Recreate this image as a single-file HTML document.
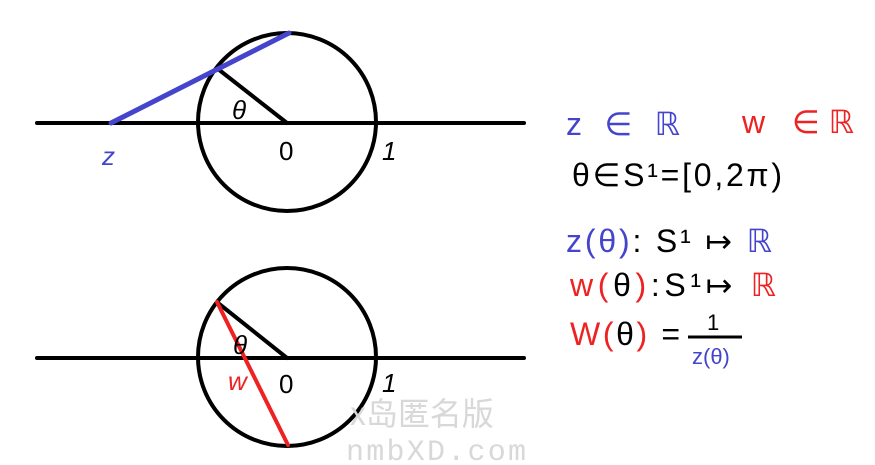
<!DOCTYPE html>
<html><head><style>html,body{margin:0;padding:0;background:#fff}svg{display:block}</style></head>
<body>
<svg width="875" height="465" viewBox="0 0 875 465" xmlns="http://www.w3.org/2000/svg" font-family="Liberation Sans, sans-serif">
<g stroke="#000" stroke-width="4" fill="none" stroke-linecap="round">
<line x1="37" y1="123" x2="524" y2="123"/>
<circle cx="287" cy="122" r="89"/>
<line x1="287" y1="123" x2="218" y2="69"/>
<line x1="37" y1="358" x2="524" y2="358"/>
<circle cx="287" cy="357" r="89"/>
<line x1="287" y1="358" x2="218" y2="303"/>
</g>
<line x1="111" y1="123" x2="289" y2="33" stroke="#4444cc" stroke-width="5" stroke-linecap="round"/>
<line x1="217" y1="302" x2="288" y2="445" stroke="#ee2222" stroke-width="4" stroke-linecap="round"/>
<g font-style="italic" font-size="26">
<text x="232" y="119">θ</text>
<text x="279" y="160" font-style="normal">0</text>
<text x="382" y="160">1</text>
<text x="102" y="165" fill="#4444cc">z</text>
<text x="233" y="354">θ</text>
<text x="279" y="393" font-style="normal">0</text>
<text x="382" y="392">1</text>
<text x="228" y="390" fill="#ee2222">w</text>
</g>
<g font-size="32">
<text x="566" y="135" fill="#4444cc" textLength="114">z ∈ ℝ</text>
<text x="742" y="133" fill="#ee2222" textLength="112">w ∈ℝ</text>
<text x="572" y="186" fill="#000" textLength="210">θ∈S¹=[0,2π)</text>
<text x="566" y="252" fill="#4444cc" textLength="206">z(θ)<tspan fill="#000">: S¹ ↦ </tspan>ℝ</text>
<text x="570" y="296" fill="#ee2222" textLength="206">w(<tspan fill="#000">θ</tspan>)<tspan fill="#000">:S¹↦ </tspan>ℝ</text>
<text x="570" y="345" fill="#ee2222" textLength="110">W(<tspan fill="#000">θ</tspan>)<tspan fill="#000"> =</tspan></text>
</g>
<line x1="688" y1="337" x2="742" y2="337" stroke="#000" stroke-width="3"/>
<text x="707" y="330" font-size="22">1</text>
<text x="692" y="364" font-size="22" fill="#4444cc">z(θ)</text>
<g fill="#d8d8d8" font-family="Noto Sans CJK SC, sans-serif">
<text x="350" y="425" font-size="32">x岛匿名版</text>
<text x="346" y="460" font-size="30" font-family="Liberation Mono, monospace" textLength="180">nmbXD.com</text>
</g>
</svg>
</body></html>
